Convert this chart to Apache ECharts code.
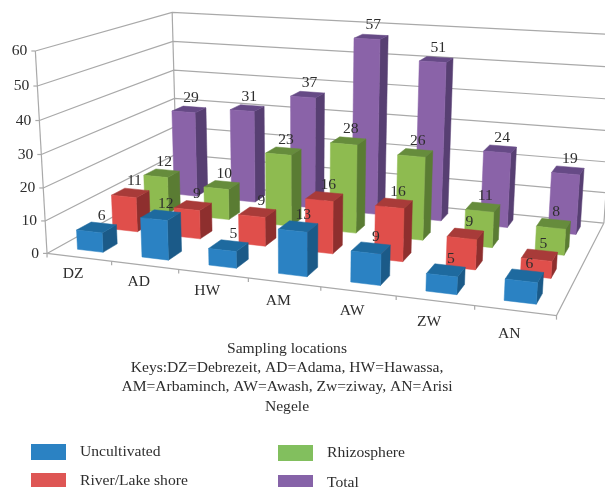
<!DOCTYPE html>
<html>
<head>
<meta charset="utf-8">
<style>html,body{margin:0;padding:0;background:#fff}#chart{width:605px;height:487px}</style>
<script src="https://cdn.jsdelivr.net/npm/echarts@6/dist/echarts.min.js"></script>
</head>
<body>
<div id="chart"></div>
<script>
const categories = ['DZ', 'AD', 'HW', 'AM', 'AW', 'ZW', 'AN'];
const yTicks = [0, 10, 20, 30, 40, 50, 60];
const uncultivated = [6, 12, 5, 13, 9, 5, 6];
const riverLake = [11, 9, 9, 16, 16, 9, 5];
const rhizosphere = [12, 10, 23, 28, 26, 11, 8];
const total = [29, 31, 37, 57, 51, 24, 19];

const rows = [
  { name: 'Uncultivated', values: uncultivated, swatch: '#2b82c3', front: '#2b82c3', top: '#1e6a9f', side: '#1b5a88', labelDx: 5 },
  { name: 'River/Lake shore', values: riverLake, swatch: '#de5654', front: '#e04f4b', top: '#a83b39', side: '#8e2f2e', labelDx: 4 },
  { name: 'Rhizosphere', values: rhizosphere, swatch: '#82bf5e', front: '#8ebb50', top: '#668c3c', side: '#5a7c33', labelDx: 2.5 },
  { name: 'Total', values: total, swatch: '#8663a8', front: '#8a63a8', top: '#664a86', side: '#573f72', labelDx: 2 }
];
const axisColor = '#a9a9a9';
const textColor = '#2e2e2e';
const serif = '"Liberation Serif", serif';

// 3d box corners -> picture, least squares fit so the floor and walls land on the reference
const anchors = [
  [[0, 0, 0], [47.5, 252]],
  [[1, 0, 0], [556.7, 316.7]],
  [[1, 1, 0], [604, 221.7]],
  [[0, 1, 0], [176.5, 183.5]],
  [[0, 0, 1], [35, 52]],
  [[0, 0, 0.5], [41, 154]],
  [[0, 1, 1], [172.7, 11.7]],
  [[0, 1, 0.5], [174.5, 97.7]],
  [[1, 1, 1], [617, 35]],
  [[1, 1, 0.5], [610, 131]]
];
function solveCamera() {
  const rowsA = [];
  anchors.forEach(([p, q]) => {
    const [a, b, c] = p;
    const [x, y] = q;
    rowsA.push([a, b, c, 1, 0, 0, 0, 0, -x * a, -x * b, -x * c, x]);
    rowsA.push([0, 0, 0, 0, a, b, c, 1, -y * a, -y * b, -y * c, y]);
  });
  const m = [];
  for (let i = 0; i < 11; i++) {
    m.push([]);
    for (let j = 0; j < 12; j++) {
      let s = 0;
      rowsA.forEach(r => { s += r[i] * r[j]; });
      m[i].push(s);
    }
  }
  for (let i = 0; i < 11; i++) {
    let best = i;
    for (let r = i + 1; r < 11; r++) if (Math.abs(m[r][i]) > Math.abs(m[best][i])) best = r;
    [m[i], m[best]] = [m[best], m[i]];
    for (let r = 0; r < 11; r++) {
      if (r === i) continue;
      const f = m[r][i] / m[i][i];
      for (let c = i; c < 12; c++) m[r][c] -= f * m[i][c];
    }
  }
  return m.map((r, i) => r[11] / r[i]);
}
const cam = solveCamera();
function project(u, v, h) {
  const w = cam[8] * u + cam[9] * v + cam[10] * h + 1;
  return [
    (cam[0] * u + cam[1] * v + cam[2] * h + cam[3]) / w,
    (cam[4] * u + cam[5] * v + cam[6] * h + cam[7]) / w
  ];
}

// hidden cartesian grid gives the scales, its fractions feed project()
function fractions(params, api, cat, val) {
  const c = api.coord([cat, val]);
  const g = params.coordSys;
  return [(c[0] - g.x) / g.width, (g.y + g.height - c[1]) / g.height];
}
const barWidth = 0.4;
const barDepth = 0.4;

function renderBar(rowIdx) {
  const row = rows[rowIdx];
  return function (params, api) {
    const [uc, h] = fractions(params, api, api.value(0), api.value(1));
    const du = (api.size([1, 0])[0] / params.coordSys.width) * barWidth / 2;
    const dv = (1 / rows.length) * barDepth / 2;
    const vc = (rowIdx + 0.5) / rows.length;
    const u0 = uc - du, u1 = uc + du, v0 = vc - dv, v1 = vc + dv;
    const face = (pts, fill) => ({
      type: 'polygon',
      shape: { points: pts.map(p => project(p[0], p[1], p[2])) },
      style: { fill: fill, stroke: fill, lineWidth: 0.5 }
    });
    return {
      type: 'group',
      children: [
        face([[u1, v0, 0], [u1, v1, 0], [u1, v1, h], [u1, v0, h]], row.side),
        face([[u0, v0, h], [u1, v0, h], [u1, v1, h], [u0, v1, h]], row.top),
        face([[u0, v0, 0], [u1, v0, 0], [u1, v0, h], [u0, v0, h]], row.front)
      ]
    };
  };
}

function line(pts) {
  return {
    type: 'polyline',
    shape: { points: pts },
    style: { stroke: axisColor, lineWidth: 1.2, fill: null }
  };
}

function renderWall(params, api) {
  const [, h] = fractions(params, api, 0, api.value(1));
  const a = project(0, 0, h);
  const children = [
    line([a, project(0, 1, h), project(1, 1, h)]),
    line([[a[0] - 4, a[1]], a]),
    {
      type: 'text',
      style: {
        x: a[0] - 8, y: a[1], text: String(api.value(1)),
        textAlign: 'right', textVerticalAlign: 'middle',
        font: '15.6px ' + serif, fill: textColor
      }
    }
  ];
  if (api.value(1) === 0) {
    children.push(line([project(0, 0, 0), project(1, 0, 0), project(1, 1, 0)]));
    children.push(line([project(0, 0, 0), project(0, 0, 1)]));
    children.push(line([project(0, 1, 0), project(0, 1, 1)]));
    children.push(line([project(1, 1, 0), project(1, 1, 1)]));
  }
  return { type: 'group', children: children };
}

function renderCategory(params, api) {
  const cat = api.value(0);
  const [uc] = fractions(params, api, cat, 0);
  const du = api.size([1, 0])[0] / params.coordSys.width / 2;
  const mid = project(uc, 0, 0);
  const tick = project(uc + du, 0, 0);
  const children = [
    line([tick, [tick[0], tick[1] + 4]]),
    {
      type: 'text',
      style: {
        // labels drop a little further from the floor edge towards the right
        x: mid[0] - 6, y: mid[1] + 16.5 + 7.5 * uc * uc, text: categories[cat],
        textAlign: 'center', textVerticalAlign: 'middle',
        font: '15.6px ' + serif, fill: textColor
      }
    }
  ];
  if (cat === 0) {
    const t0 = project(uc - du, 0, 0);
    children.push(line([t0, [t0[0], t0[1] + 4]]));
  }
  return { type: 'group', children: children };
}

function renderValueLabel(params, api) {
  const [uc, h] = fractions(params, api, api.value(0), api.value(1));
  const rowIdx = api.value(2);
  const vc = (rowIdx + 0.5) / rows.length;
  const p = project(uc, vc, h);
  return {
    type: 'text',
    style: {
      x: p[0] + rows[rowIdx].labelDx, y: p[1] - 11.5, text: String(api.value(1)),
      textAlign: 'center', textVerticalAlign: 'middle',
      font: '15.6px ' + serif, fill: textColor
    }
  };
}

const labelData = [];
rows.forEach((row, r) => row.values.forEach((v, c) => labelData.push([c, v, r])));

const series = [
  {
    type: 'custom', silent: true, z: 1,
    renderItem: renderWall,
    encode: { x: 0, y: 1 },
    data: yTicks.map(t => [0, t])
  },
  {
    type: 'custom', silent: true, z: 1,
    renderItem: renderCategory,
    encode: { x: 0, y: 1 },
    data: categories.map((c, i) => [i, 0])
  }
];
rows.forEach((row, r) => {
  series.push({
    type: 'custom',
    name: row.name,
    silent: true,
    z: 5 - r,
    itemStyle: { color: row.swatch },
    renderItem: renderBar(r),
    encode: { x: 0, y: 1 },
    data: row.values.map((v, c) => [c, v])
  });
});
series.push({
  type: 'custom', silent: true, z: 9,
  renderItem: renderValueLabel,
  encode: { x: 0, y: 1 },
  data: labelData
});

function legendItem(name, left, top) {
  return {
    data: [name], left: left, top: top, padding: 0,
    itemWidth: 35, itemHeight: 16, icon: 'rect', selectedMode: false,
    textStyle: { fontFamily: serif, fontSize: 15.6, color: textColor, padding: [0, 0, 0, 9] }
  };
}

const chart = echarts.init(document.getElementById('chart'), null, { renderer: 'canvas' });
chart.setOption({
  animation: false,
  backgroundColor: '#fff',
  title: {
    text: 'Sampling locations\nKeys:DZ=Debrezeit, AD=Adama, HW=Hawassa,\nAM=Arbaminch, AW=Awash, Zw=ziway, AN=Arisi\nNegele',
    left: 287, top: 339, padding: 0,
    textAlign: 'center',
    textStyle: { fontFamily: serif, fontSize: 15.6, fontWeight: 'normal', color: textColor, lineHeight: 19.3, align: 'center' }
  },
  legend: [
    legendItem('Uncultivated', 31, 444),
    legendItem('River/Lake shore', 31, 473),
    legendItem('Rhizosphere', 278, 445),
    legendItem('Total', 278, 475)
  ],
  grid: { left: 0, right: 0, top: 0, bottom: 0 },
  xAxis: { type: 'category', data: categories, show: false },
  yAxis: { type: 'value', min: 0, max: 60, interval: 10, show: false },
  series: series
});
</script>
</body>
</html>
